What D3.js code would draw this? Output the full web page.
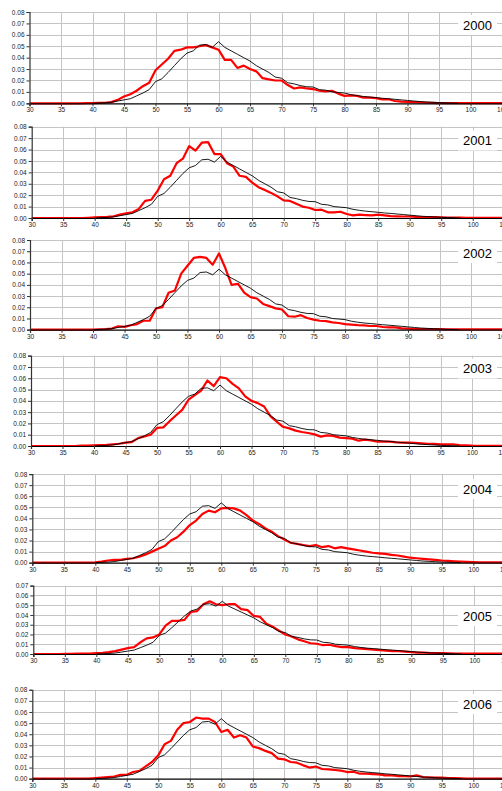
<!DOCTYPE html>
<html>
<head>
<meta charset="utf-8">
<script src="https://cdn.jsdelivr.net/npm/d3@7"></script>
<style>
html,body{margin:0;padding:0;background:#fff;}
svg{display:block;}
</style>
</head>
<body>
<svg id="chart" width="502" height="791"></svg>
<script>
// ---------------- DATA ----------------
const years = ["2000","2001","2002","2003","2004","2005","2006"];
const xTicks = [30,35,40,45,50,55,60,65,70,75,80,85,90,95,100,105];

// reference distribution (black), ages 40..98
const refAges = d3.range(40, 99);
const refValues = [0.0000,0.0003,0.0005,0.0010,0.0020,0.0030,0.0040,0.0065,0.0090,0.0120,
  0.0190,0.0215,0.0270,0.0330,0.0390,0.0440,0.0460,0.0510,0.0515,0.0490,
  0.0540,0.0490,0.0460,0.0430,0.0400,0.0370,0.0330,0.0300,0.0270,0.0230,
  0.0220,0.0180,0.0170,0.0155,0.0145,0.0143,0.0120,0.0115,0.0100,0.0095,
  0.0090,0.0076,0.0067,0.0060,0.0055,0.0050,0.0044,0.0040,0.0035,0.0030,
  0.0025,0.0020,0.0015,0.0012,0.0009,0.0006,0.0004,0.0002,0.0001];

// yearly distributions (red), ages 30..106
const redAges = d3.range(30, 107);
const red2000 = [0,0,0,0,0,0,0,0,0,0.0001,0.0002,0.0003,0.0005,0.0010,0.0030,0.0060,0.0080,0.0110,0.0150,0.0180,
  0.0290,0.0340,0.0390,0.0460,0.0470,0.0490,0.0490,0.0500,0.0510,0.0490,
  0.0470,0.0380,0.0380,0.0310,0.0330,0.0300,0.0280,0.0220,0.0210,0.0200,
  0.0200,0.0160,0.0130,0.0140,0.0130,0.0125,0.0110,0.0105,0.0110,0.0085,
  0.0065,0.0070,0.0065,0.0050,0.0050,0.0045,0.0035,0.0035,0.0020,0.0015,
  0.0012,0.0010,0.0008,0.0005,0.0003,0.0002,0.0001,0.0001,0.0001,0.0001,
  0.0001,0.0001,0.0001,0.0001,0.0001,0.0001,0.0001];
const red2001 = [0,0,0,0,0,0,0,0,0,0.0002,0.0005,0.0007,0.0010,0.0015,0.0030,0.0040,0.0050,0.0080,0.0150,0.0160,
  0.0240,0.0340,0.0370,0.0480,0.0520,0.0630,0.0590,0.0660,0.0665,0.0560,
  0.0560,0.0480,0.0450,0.0370,0.0360,0.0310,0.0270,0.0245,0.0220,0.0190,
  0.0155,0.0150,0.0125,0.0100,0.0090,0.0070,0.0073,0.0050,0.0050,0.0055,
  0.0035,0.0023,0.0030,0.0026,0.0023,0.0030,0.0023,0.0017,0.0015,0.0013,
  0.0015,0.0010,0.0007,0.0007,0.0007,0.0005,0.0003,0.0003,0.0003,0.0002,
  0.0002,0.0002,0.0002,0.0002,0.0002,0.0002,0.0002];
const red2002 = [0,0,0,0,0,0,0,0,0,0,0,0.0003,0.0005,0.0010,0.0030,0.0025,0.0040,0.0050,0.0080,0.0080,
  0.0190,0.0200,0.0330,0.0350,0.0500,0.0570,0.0640,0.0650,0.0640,0.0580,
  0.0680,0.0550,0.0400,0.0410,0.0330,0.0290,0.0278,0.0230,0.0210,0.0190,
  0.0180,0.0120,0.0116,0.0130,0.0104,0.0090,0.0080,0.0077,0.0065,0.0060,
  0.0050,0.0045,0.0040,0.0038,0.0033,0.0033,0.0024,0.0020,0.0020,0.0012,
  0.0009,0.0006,0.0006,0.0006,0.0006,0.0006,0.0003,0.0003,0.0003,0.0003,
  0.0003,0.0003,0.0003,0.0003,0.0003,0.0003,0.0003];
const red2003 = [0,0,0,0,0,0,0,0,0.0003,0.0003,0.0005,0.0008,0.0010,0.0015,0.0020,0.0030,0.0035,0.0070,0.0085,0.0100,
  0.0160,0.0165,0.0220,0.0270,0.0320,0.0410,0.0450,0.0490,0.0580,0.0530,
  0.0610,0.0600,0.0550,0.0510,0.0440,0.0400,0.0380,0.0350,0.0265,0.0215,
  0.0170,0.0156,0.0136,0.0124,0.0115,0.0103,0.0083,0.0094,0.0090,0.0074,
  0.0070,0.0065,0.0047,0.0056,0.0050,0.0038,0.0040,0.0038,0.0032,0.0030,
  0.0030,0.0027,0.0024,0.0020,0.0018,0.0015,0.0015,0.0015,0.0009,0.0006,
  0.0003,0.0002,0.0002,0.0002,0.0002,0.0002,0.0002];
const red2004 = [0,0,0,0,0,0,0,0,0,0,0.0003,0.0010,0.0020,0.0025,0.0025,0.0035,0.0040,0.0055,0.0075,0.0100,
  0.0125,0.0150,0.0200,0.0230,0.0280,0.0340,0.0380,0.0440,0.0470,0.0455,
  0.0490,0.0495,0.0490,0.0470,0.0430,0.0380,0.0350,0.0310,0.0280,0.0240,
  0.0210,0.0180,0.0170,0.0160,0.0150,0.0160,0.0140,0.0150,0.0130,0.0140,
  0.0130,0.0120,0.0110,0.0100,0.0090,0.0085,0.0080,0.0070,0.0065,0.0055,
  0.0045,0.0040,0.0035,0.0030,0.0025,0.0020,0.0017,0.0013,0.0010,0.0008,
  0.0005,0.0003,0.0003,0.0003,0.0003,0.0003,0.0003];
const red2005 = [0,0,0,0,0,0.0002,0.0002,0.0005,0.0003,0.0005,0.0010,0.0013,0.0020,0.0030,0.0045,0.0060,0.0070,0.0120,0.0160,0.0170,
  0.0200,0.0290,0.0340,0.0340,0.0350,0.0430,0.0440,0.0510,0.0540,0.0510,
  0.0500,0.0510,0.0510,0.0460,0.0450,0.0390,0.0380,0.0310,0.0280,0.0240,
  0.0200,0.0180,0.0150,0.0130,0.0110,0.0105,0.0090,0.0095,0.0080,0.0070,
  0.0070,0.0060,0.0055,0.0050,0.0045,0.0040,0.0035,0.0030,0.0030,0.0025,
  0.0020,0.0015,0.0015,0.0010,0.0010,0.0008,0.0006,0.0004,0.0004,0.0004,
  0.0003,0.0003,0.0003,0.0003,0.0003,0.0003,0.0003];
const red2006 = [0,0,0,0,0,0,0,0,0,0,0.0005,0.0010,0.0015,0.0020,0.0035,0.0035,0.0060,0.0070,0.0110,0.0150,
  0.0210,0.0310,0.0340,0.0440,0.0500,0.0510,0.0550,0.0540,0.0540,0.0510,
  0.0420,0.0440,0.0370,0.0390,0.0370,0.0290,0.0275,0.0250,0.0230,0.0180,
  0.0174,0.0150,0.0144,0.0120,0.0100,0.0110,0.0087,0.0084,0.0078,0.0072,
  0.0060,0.0063,0.0045,0.0045,0.0042,0.0039,0.0030,0.0030,0.0024,0.0024,
  0.0020,0.0030,0.0015,0.0012,0.0009,0.0009,0.0006,0.0006,0.0003,0.0001,
  0.0001,0.0001,0.0001,0.0001,0.0001,0.0001,0.0001];
const redSeries = [red2000, red2001, red2002, red2003, red2004, red2005, red2006];
const yMaxes = [0.08,0.08,0.08,0.08,0.08,0.07,0.08];

// ---------------- LAYOUT ----------------
const panelLeft   = [29.5, 31.7, 30, 31, 32.3, 33.3, 32.3];
const panelBottom = [103.3, 218, 329.7, 446, 562.7, 654, 778.7];
const pxPer001    = [11.41, 11.41, 11.21, 11.29, 11.08, 9.76, 11.12];
const labelCY     = [25, 140.5, 253, 368.5, 489, 616, 704];
const pxPerUnit = 6.3;

const svg = d3.select("#chart");
const font = "'Liberation Sans', Arial, sans-serif";

years.forEach((yr, i) => {
  const x0 = panelLeft[i], yb = panelBottom[i];
  const ymax = yMaxes[i];
  const ytop = yb - pxPer001[i] * ymax * 100;
  const x = d3.scaleLinear().domain([30, 105]).range([x0, x0 + 75 * pxPerUnit]);
  const y = d3.scaleLinear().domain([0, ymax]).range([yb, ytop]);
  const g = svg.append("g");
  const yTicks = d3.range(0, Math.round(ymax * 100) + 1).map(k => k / 100);

  // grid
  g.selectAll("line.hg").data(yTicks.slice(1)).enter().append("line")
    .attr("x1", x0).attr("x2", 502).attr("y1", d => Math.round(y(d)) + 0.5).attr("y2", d => Math.round(y(d)) + 0.5)
    .attr("stroke", "#c4c4c4").attr("stroke-width", 1);
  g.selectAll("line.vg").data(xTicks.slice(1)).enter().append("line")
    .attr("x1", d => Math.round(x(d)) + 0.5).attr("x2", d => Math.round(x(d)) + 0.5)
    .attr("y1", ytop).attr("y2", yb)
    .attr("stroke", "#c4c4c4").attr("stroke-width", 1);

  // year label box
  g.append("rect").attr("x", 458).attr("y", labelCY[i] - 10).attr("width", 39).attr("height", 20).attr("fill", "#fff");
  g.append("text").attr("x", 477.5).attr("y", labelCY[i] + 4.6).attr("text-anchor", "middle")
    .attr("font-family", font).attr("font-size", 13).attr("fill", "#000").text(yr);

  // lines
  const line = d3.line().x(d => x(d[0])).y(d => y(d[1]));
  g.append("path").datum(redAges.map((a, k) => [a, redSeries[i][k]]))
    .attr("d", line).attr("fill", "none").attr("stroke", "#ff0000").attr("stroke-width", 2.2)
    .attr("stroke-linejoin", "round");
  g.append("path").datum(refAges.map((a, k) => [a, refValues[k]]))
    .attr("d", line).attr("fill", "none").attr("stroke", "#000").attr("stroke-width", 0.9);

  // axes
  const xAxis = d3.axisBottom(x).tickValues(xTicks).tickSize(3).tickPadding(1.5).tickFormat(d3.format("d"));
  const gx = g.append("g").attr("transform", `translate(0,${yb})`).call(xAxis);
  gx.select(".domain").attr("stroke", "#000").attr("stroke-width", 1.2);
  gx.selectAll(".tick line").attr("stroke", "#333");
  gx.selectAll("text").attr("font-family", font).attr("font-size", 6.5).attr("fill", "#222");

  const yAxis = d3.axisLeft(y).tickValues(yTicks).tickSize(3).tickPadding(2).tickFormat(d3.format(".2f"));
  const gy = g.append("g").attr("transform", `translate(${x0},0)`).call(yAxis);
  gy.select(".domain").attr("stroke", "#333").attr("stroke-width", 1.2);
  gy.selectAll(".tick line").attr("stroke", "#333");
  gy.selectAll("text").attr("font-family", font).attr("font-size", 6.5).attr("fill", "#222");
});
</script>
</body>
</html>
